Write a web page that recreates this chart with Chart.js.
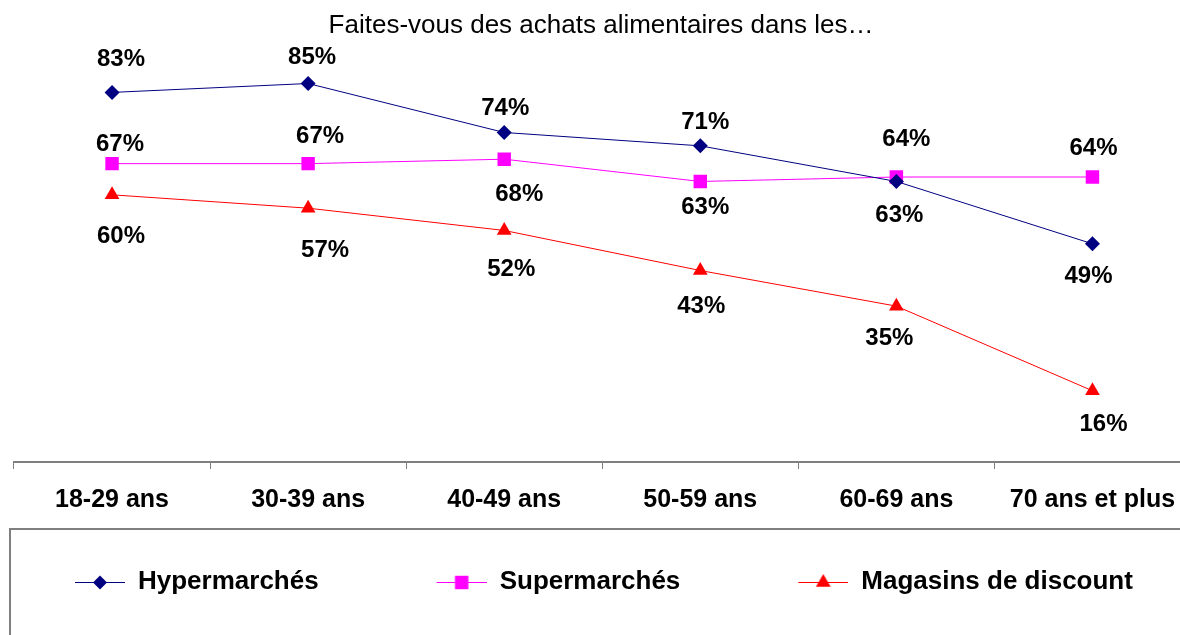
<!DOCTYPE html>
<html>
<head>
<meta charset="utf-8">
<script src="https://cdn.jsdelivr.net/npm/chart.js@4/dist/chart.umd.min.js"></script>
<style>
  body { margin: 0; overflow: hidden; background: #fff; }
  #wrap { width: 1200px; height: 635px; }
</style>
</head>
<body>
<div id="wrap"><canvas id="lineChart" width="1200" height="635"></canvas></div>
<script>
// data
const ageGroups = ['18-29 ans', '30-39 ans', '40-49 ans', '50-59 ans', '60-69 ans', '70 ans et plus'];
const hyperValues = [83, 85, 74, 71, 63, 49];
const superValues = [67, 67, 68, 63, 64, 64];
const discountValues = [60, 57, 52, 43, 35, 16];

// where each % label sits relative to its marker (dx, dy)
const labelShift = [
    [[9, -33], [4, -26], [1, -24], [5, -23], [3, 34], [-4, 33]],
    [[8, -19], [12, -27], [15, 35], [5, 26], [10, -38], [1, -29]],
    [[9, 42], [17, 42], [7, 39], [1, 36], [-7, 32], [11, 34]]
];

const FONT = "'Liberation Sans', Arial, sans-serif";
const ICON_W = 168;   // legend box: blank lead-in + 50px line sample

// legend icon: blank gap, then a short line with the marker in the middle
function legendIcon(color, style, radius) {
    const c = document.createElement('canvas');
    c.width = ICON_W;
    c.height = 20;
    const g = c.getContext('2d');
    g.strokeStyle = color;
    g.lineWidth = 1;
    g.beginPath();
    g.moveTo(ICON_W - 50, 10.5);
    g.lineTo(ICON_W, 10.5);
    g.stroke();
    g.fillStyle = color;
    Chart.helpers.drawPoint(g, { pointStyle: style, radius: radius, borderWidth: 0, rotation: 0 }, ICON_W - 25, 10.5);
    return c;
}

const icons = [
    legendIcon('#000080', 'rectRot', 7),
    legendIcon('#ff00ff', 'rect', 9.5),
    legendIcon('#ff0000', 'triangle', 8.5)
];

// % labels next to the markers
const valueLabels = {
    id: 'valueLabels',
    afterDatasetsDraw(chart) {
        const ctx = chart.ctx;
        ctx.save();
        ctx.font = 'bold 24px ' + FONT;
        ctx.fillStyle = '#000';
        ctx.textAlign = 'center';
        ctx.textBaseline = 'middle';
        chart.data.datasets.forEach((ds, i) => {
            chart.getDatasetMeta(i).data.forEach((pt, j) => {
                const s = labelShift[i][j];
                ctx.fillText(ds.data[j] + '%', pt.x + s[0], pt.y + s[1]);
            });
        });
        ctx.restore();
    }
};

// frame around the legend
const legendFrame = {
    id: 'legendFrame',
    beforeDraw(chart) {
        const ctx = chart.ctx;
        ctx.save();
        ctx.strokeStyle = '#7f7f7f';
        ctx.lineWidth = 2;
        ctx.strokeRect(10, 529, 1300, 200);
        ctx.restore();
    }
};

const ctxLine = document.getElementById('lineChart');

new Chart(ctxLine, {
    type: 'line',
    data: {
        labels: ageGroups,
        datasets: [{
            label: 'Hypermarchés',
            data: hyperValues,
            borderColor: '#000080',
            backgroundColor: '#000080',
            borderWidth: 1,
            pointStyle: 'rectRot',
            pointRadius: 7.5,
            pointBorderWidth: 0,
            tension: 0
        }, {
            label: 'Supermarchés',
            data: superValues,
            borderColor: '#ff00ff',
            backgroundColor: '#ff00ff',
            borderWidth: 1,
            pointStyle: 'rect',
            pointRadius: 9.5,
            pointBorderWidth: 0,
            tension: 0
        }, {
            label: 'Magasins de discount',
            data: discountValues,
            borderColor: '#ff0000',
            backgroundColor: '#ff0000',
            borderWidth: 1,
            pointStyle: 'triangle',
            pointRadius: 8.5,
            pointBorderWidth: 0,
            tension: 0
        }]
    },
    options: {
        responsive: false,
        animation: false,
        layout: {
            // wide box so the legend row fits; blank side axes bring the plot back in
            padding: { left: -43, right: -45, top: 0, bottom: 30 }
        },
        plugins: {
            title: {
                display: true,
                text: 'Faites-vous des achats alimentaires dans les\u2026',
                color: '#000',
                font: { family: FONT, size: 26, weight: 'normal' },
                padding: { top: 10, bottom: 0 }
            },
            legend: {
                display: true,
                position: 'bottom',
                align: 'start',
                labels: {
                    usePointStyle: true,
                    pointStyleWidth: ICON_W,
                    color: '#000',
                    padding: 0,
                    font: { family: FONT, size: 26, weight: 'bold' },
                    generateLabels(chart) {
                        const items = Chart.defaults.plugins.legend.labels.generateLabels(chart);
                        items.forEach((it, i) => { it.pointStyle = icons[i]; });
                        return items;
                    }
                }
            },
            tooltip: { enabled: false }
        },
        scales: {
            x: {
                offset: true,
                grid: {
                    offset: true,
                    drawOnChartArea: false,
                    drawTicks: true,
                    tickLength: 7,
                    color: '#7f7f7f'
                },
                border: { display: true, color: '#7f7f7f', width: 2 },
                ticks: {
                    color: '#000',
                    padding: 16,
                    maxRotation: 0,
                    autoSkip: false,
                    font: { family: FONT, size: 25, weight: 'bold' }
                },
                afterFit(scale) { scale.height = 107; }
            },
            y: {
                display: true,
                min: 0,
                max: 94.5,
                grid: { display: false },
                border: { display: false },
                ticks: { display: false },
                afterFit(scale) { scale.width = 57; }
            },
            y2: {
                type: 'linear',
                position: 'right',
                display: true,
                grid: { display: false },
                border: { display: false },
                ticks: { display: false },
                afterFit(scale) { scale.width = 49; }
            }
        }
    },
    plugins: [valueLabels, legendFrame]
});
</script>
</body>
</html>
